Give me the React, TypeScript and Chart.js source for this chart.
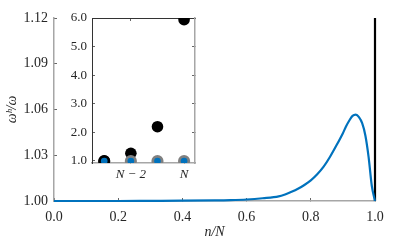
import React, { useEffect, useRef } from "react";
import { Chart, registerables } from "chart.js";
Chart.register(...registerables);

// Main plot data
const curveX = [0, 0.1, 0.2, 0.3, 0.4, 0.5, 0.55, 0.6, 0.65, 0.7, 0.72, 0.74, 0.76, 0.78, 0.8, 0.82, 0.84, 0.86, 0.88, 0.9, 0.91, 0.92, 0.93, 0.94, 0.95, 0.96, 0.97, 0.98, 0.99, 1.0];
const curveY = [1.0, 1.0, 1.0, 1.0001, 1.0002, 1.0004, 1.0006, 1.001, 1.0018, 1.003, 1.0043, 1.006, 1.008, 1.0105, 1.0135, 1.0175, 1.0225, 1.029, 1.0365, 1.0445, 1.049, 1.0528, 1.0558, 1.0566, 1.055, 1.051, 1.043, 1.029, 1.01, 1.0];
const spikeX = [1, 1];
const spikeY = [1.0, 5.94];
const mainXTicks = [0, 0.2, 0.4, 0.6, 0.8, 1.0];
const mainYTicks = [1.0, 1.03, 1.06, 1.09, 1.12];

// Inset data
const insetIndex = [1, 2, 3, 4];
const insetBlack = [1.0, 1.27, 2.2, 5.94];
const insetBlue = [1.0, 1.0, 1.0, 1.0];
const insetXTicks = [2, 4];
const insetXLabels = ["N − 2", "N"];
const insetYTicks = [1, 2, 3, 4, 5, 6];
const insetSideTicks = [2, 3, 4, 5];

const FONT = "'Liberation Serif', 'Times New Roman', serif";
const TXT = "#262626";
const AXIS = "#a6a6a6";
const BLUE = "#0072BD";

const whiteArea = {
  id: "whiteArea",
  beforeDraw(chart: any) {
    const { ctx, chartArea } = chart;
    ctx.save();
    ctx.fillStyle = "#ffffff";
    ctx.fillRect(chartArea.left, chartArea.top, chartArea.right - chartArea.left, chartArea.bottom - chartArea.top);
    ctx.restore();
  },
};

export default function App() {
  const mainRef = useRef<HTMLCanvasElement>(null);
  const insetRef = useRef<HTMLCanvasElement>(null);

  useEffect(() => {
    const main = new Chart(mainRef.current as HTMLCanvasElement, {
      type: "line",
      data: {
        datasets: [
          {
            data: curveX.map((x, i) => ({ x, y: curveY[i] })),
            borderColor: BLUE,
            borderWidth: 2.2,
            pointRadius: 0,
            cubicInterpolationMode: "monotone",
            fill: false,
            clip: { left: 4, right: 4, top: 0, bottom: 4 },
          },
          {
            data: spikeX.map((x, i) => ({ x, y: spikeY[i] })),
            borderColor: "#000000",
            borderWidth: 2.2,
            pointRadius: 0,
            fill: false,
            clip: { left: 4, right: 4, top: 0, bottom: 0 },
          },
        ],
      },
      options: {
        animation: false,
        responsive: false,
        layout: { padding: { left: 0, right: 40, top: 18, bottom: 0 } },
        plugins: { legend: { display: false }, tooltip: { enabled: false } },
        scales: {
          x: {
            type: "linear",
            min: 0,
            max: 1,
            afterBuildTicks: (s: any) => {
              s.ticks = mainXTicks.map((v) => ({ value: v }));
            },
            afterFit: (s: any) => {
              s.height = 42;
            },
            grid: { drawOnChartArea: false, drawTicks: true, tickLength: -3, color: "#666", tickWidth: 1 },
            border: { display: true, color: AXIS, width: 1.5 },
            ticks: {
              font: { family: FONT, size: 14 },
              color: TXT,
              padding: 10.5,
              maxRotation: 0,
              autoSkip: false,
              callback: (v: any) => Number(v).toFixed(1),
            },
            title: {
              display: true,
              text: "n/N",
              font: { family: FONT, size: 14, style: "italic" },
              color: TXT,
              padding: { top: 0, bottom: 2.6 },
            },
          },
          y: {
            type: "linear",
            min: 1.0,
            max: 1.12,
            afterBuildTicks: (s: any) => {
              s.ticks = mainYTicks.map((v) => ({ value: v }));
            },
            afterFit: (s: any) => {
              s.width = 54;
            },
            grid: { drawOnChartArea: false, drawTicks: true, tickLength: -3, color: "#666", tickWidth: 1 },
            border: { display: true, color: AXIS, width: 1.5 },
            ticks: {
              font: { family: FONT, size: 14 },
              color: TXT,
              padding: 9,
              autoSkip: false,
              callback: (v: any) => Number(v).toFixed(2),
            },
            title: {
              display: true,
              text: "ωʰ/ω",
              font: { family: FONT, size: 14, style: "italic" },
              color: TXT,
              padding: { top: 3.6, bottom: 0 },
            },
          },
        },
      },
    } as any);

    const inset = new Chart(insetRef.current as HTMLCanvasElement, {
      type: "scatter",
      data: {
        datasets: [
          {
            data: insetIndex.map((x, i) => ({ x, y: insetBlue[i] })),
            backgroundColor: BLUE,
            borderColor: ["#000000", "#808080", "#808080", "#808080"],
            borderWidth: 2.7,
            pointRadius: 4.7,
            xAxisID: "x",
            yAxisID: "y",
            order: 0,
          },
          {
            data: insetIndex.map((x, i) => ({ x, y: insetBlack[i] })),
            backgroundColor: "#000000",
            borderColor: "#000000",
            borderWidth: 0,
            pointRadius: 5.8,
            xAxisID: "x",
            yAxisID: "y",
            order: 1,
          },
        ],
      },
      options: {
        animation: false,
        responsive: false,
        layout: { padding: { left: 62, right: 220, top: 18, bottom: 60 } },
        plugins: { legend: { display: false }, tooltip: { enabled: false } },
        scales: {
          x: {
            type: "linear",
            position: "bottom",
            min: 0.54,
            max: 4.41,
            afterBuildTicks: (s: any) => {
              s.ticks = insetXTicks.map((v) => ({ value: v }));
            },
            afterFit: (s: any) => {
              s.height = 20;
            },
            grid: { drawOnChartArea: false, drawTicks: true, tickLength: -3, color: "#666", tickWidth: 1 },
            border: { display: true, color: AXIS, width: 1.5 },
            ticks: {
              font: { family: FONT, size: 13, style: "italic" },
              color: TXT,
              padding: 7.2,
              maxRotation: 0,
              autoSkip: false,
              callback: (v: any) => insetXLabels[insetXTicks.indexOf(Number(v))] ?? "",
            },
          },
          x2: {
            type: "linear",
            position: "top",
            min: 0.54,
            max: 4.41,
            afterBuildTicks: (s: any) => {
              s.ticks = insetXTicks.map((v) => ({ value: v }));
            },
            afterFit: (s: any) => {
              s.height = 0;
            },
            grid: { drawOnChartArea: false, drawTicks: true, tickLength: -3, color: "#666", tickWidth: 1 },
            border: { display: true, color: "#333333", width: 1 },
            ticks: { display: false },
          },
          y: {
            type: "linear",
            position: "left",
            min: 0.93,
            max: 6.0,
            afterBuildTicks: (s: any) => {
              s.ticks = insetYTicks.map((v) => ({ value: v }));
            },
            afterFit: (s: any) => {
              s.width = 30;
            },
            grid: { drawOnChartArea: false, drawTicks: true, tickLength: -3, color: "#666", tickWidth: 1 },
            border: { display: true, color: "#333333", width: 1 },
            ticks: {
              font: { family: FONT, size: 13 },
              color: TXT,
              padding: 8,
              autoSkip: false,
              callback: (v: any) => Number(v).toFixed(1),
            },
          },
          y2: {
            type: "linear",
            position: "right",
            min: 0.93,
            max: 6.0,
            afterBuildTicks: (s: any) => {
              s.ticks = insetSideTicks.map((v) => ({ value: v }));
            },
            afterFit: (s: any) => {
              s.width = 0;
            },
            grid: { drawOnChartArea: false, drawTicks: true, tickLength: -3, color: "#666", tickWidth: 1 },
            border: { display: true, color: AXIS, width: 1.5 },
            ticks: { display: false },
          },
        },
      },
      plugins: [whiteArea],
    } as any);

    return () => {
      main.destroy();
      inset.destroy();
    };
  }, []);

  return (
    <div style={{ position: "absolute", left: 0, top: 0, width: 415, height: 243, background: "#fff" }}>
      <canvas ref={mainRef} width={415} height={243} style={{ position: "absolute", left: 0, top: 0, width: 415, height: 243 }} />
      <canvas ref={insetRef} width={415} height={243} style={{ position: "absolute", left: 0, top: 0, width: 415, height: 243 }} />
    </div>
  );
}
